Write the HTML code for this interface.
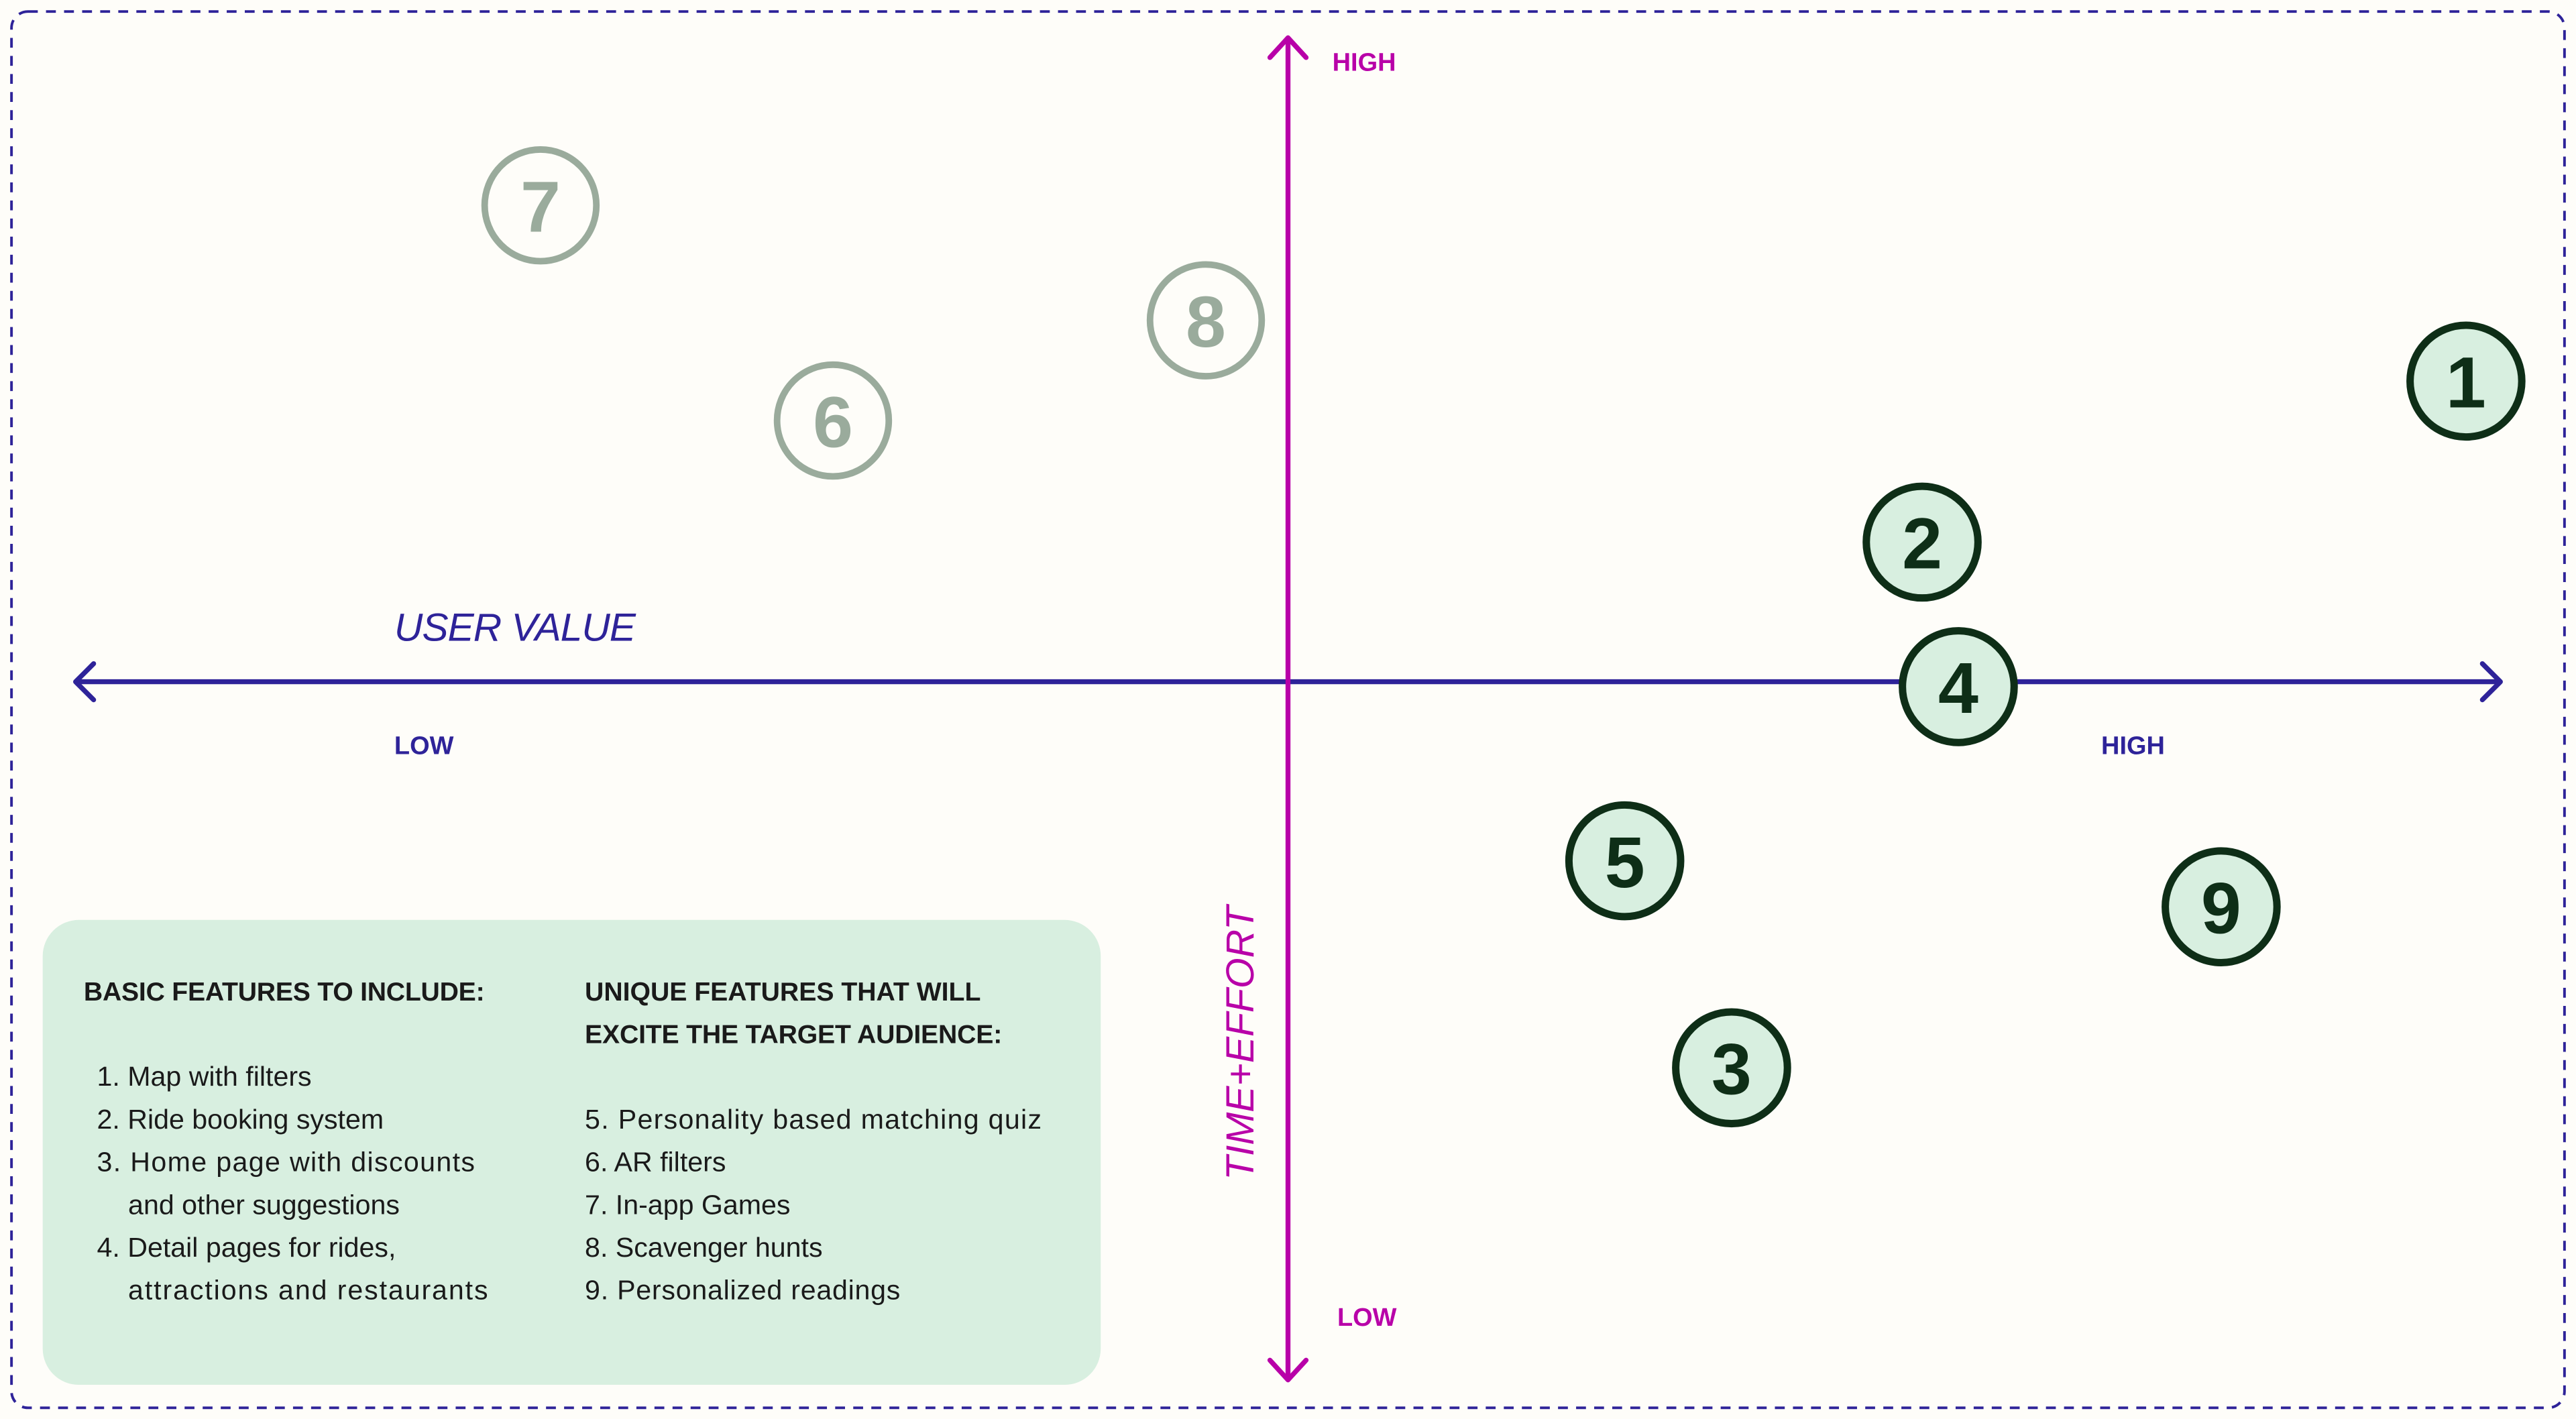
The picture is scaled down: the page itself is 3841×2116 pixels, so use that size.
<!DOCTYPE html>
<html><head><meta charset="utf-8"><style>
html,body{margin:0;padding:0;background:#fefdf9;}
svg{display:block;}
text{font-family:"Liberation Sans",sans-serif;}
.t{font-size:16.8px;fill:#1a1a1a;}
.h{font-size:16px;font-weight:bold;fill:#1a1a1a;}
.n{font-size:44px;font-weight:bold;text-anchor:middle;}
</style></head><body>
<svg width="3841" height="2116" viewBox="0 0 1568 863.8" preserveAspectRatio="none" xmlns="http://www.w3.org/2000/svg">
<rect x="0" y="0" width="1568" height="864" fill="#fefdf9"/>
<rect x="7" y="7" width="1554" height="850" rx="10" fill="none" stroke="#2e2399" stroke-width="1.6" stroke-dasharray="6,5"/>
<line x1="46" y1="415" x2="1522" y2="415" stroke="#2e2399" stroke-width="3"/>
<polyline points="57,404 46,415 57,426" fill="none" stroke="#2e2399" stroke-width="3" stroke-linecap="round" stroke-linejoin="round"/>
<polyline points="1511,404 1522,415 1511,426" fill="none" stroke="#2e2399" stroke-width="3" stroke-linecap="round" stroke-linejoin="round"/>
<line x1="784" y1="24" x2="784" y2="839" stroke="#b800a8" stroke-width="3"/>
<polyline points="773,35 784,23 795,35" fill="none" stroke="#b800a8" stroke-width="3" stroke-linecap="round" stroke-linejoin="round"/>
<polyline points="773,828 784,840 795,828" fill="none" stroke="#b800a8" stroke-width="3" stroke-linecap="round" stroke-linejoin="round"/>
<text x="811" y="43" font-size="15.5" font-weight="bold" fill="#b800a8">HIGH</text>
<text x="814" y="807" font-size="15.5" font-weight="bold" fill="#b800a8">LOW</text>
<text x="240" y="390" font-size="24" font-style="italic" fill="#2e2399" textLength="147">USER VALUE</text>
<text x="240" y="459" font-size="15.5" font-weight="bold" fill="#2e2399">LOW</text>
<text x="1279" y="459" font-size="15.5" font-weight="bold" fill="#2e2399">HIGH</text>
<text transform="translate(763,635) rotate(-90)" text-anchor="middle" font-size="24" font-style="italic" fill="#b800a8">TIME+EFFORT</text>
<g fill="none" stroke="#9aab9c" stroke-width="4">
<circle cx="329" cy="125" r="34"/><circle cx="734" cy="195" r="34"/><circle cx="507" cy="256" r="34"/>
</g>
<g fill="#9aab9c">
<text class="n" x="329" y="141">7</text><text class="n" x="734" y="211">8</text><text class="n" x="507" y="272">6</text>
</g>
<g fill="#d8efe0" stroke="#0e2e17" stroke-width="4.5">
<circle cx="1501" cy="232" r="34"/><circle cx="1170" cy="330" r="34"/><circle cx="1192" cy="418" r="34"/>
<circle cx="989" cy="524" r="34"/><circle cx="1352" cy="552" r="34"/><circle cx="1054" cy="650" r="34"/>
</g>
<g fill="#0e2e17">
<text class="n" x="1501" y="248">1</text><text class="n" x="1170" y="346">2</text><text class="n" x="1192" y="434">4</text>
<text class="n" x="989" y="540">5</text><text class="n" x="1352" y="568">9</text><text class="n" x="1054" y="666">3</text>
</g>
<rect x="26" y="560" width="644" height="283" rx="22" fill="#d8efe0"/>
<text class="h" x="51" y="609" textLength="244">BASIC FEATURES TO INCLUDE:</text>
<text class="t" x="59" y="661">1. Map with filters</text>
<text class="t" x="59" y="687">2. Ride booking system</text>
<text class="t" x="59" y="713" textLength="230">3. Home page with discounts</text>
<text class="t" x="78" y="739">and other suggestions</text>
<text class="t" x="59" y="765">4. Detail pages for rides,</text>
<text class="t" x="78" y="791" textLength="219">attractions and restaurants</text>
<text class="h" x="356" y="609" textLength="241">UNIQUE FEATURES THAT WILL</text>
<text class="h" x="356" y="635" textLength="254">EXCITE THE TARGET AUDIENCE:</text>
<text class="t" x="356" y="687" textLength="278">5. Personality based matching quiz</text>
<text class="t" x="356" y="713">6. AR filters</text>
<text class="t" x="356" y="739">7. In-app Games</text>
<text class="t" x="356" y="765">8. Scavenger hunts</text>
<text class="t" x="356" y="791" textLength="192">9. Personalized readings</text>
</svg>
</body></html>
